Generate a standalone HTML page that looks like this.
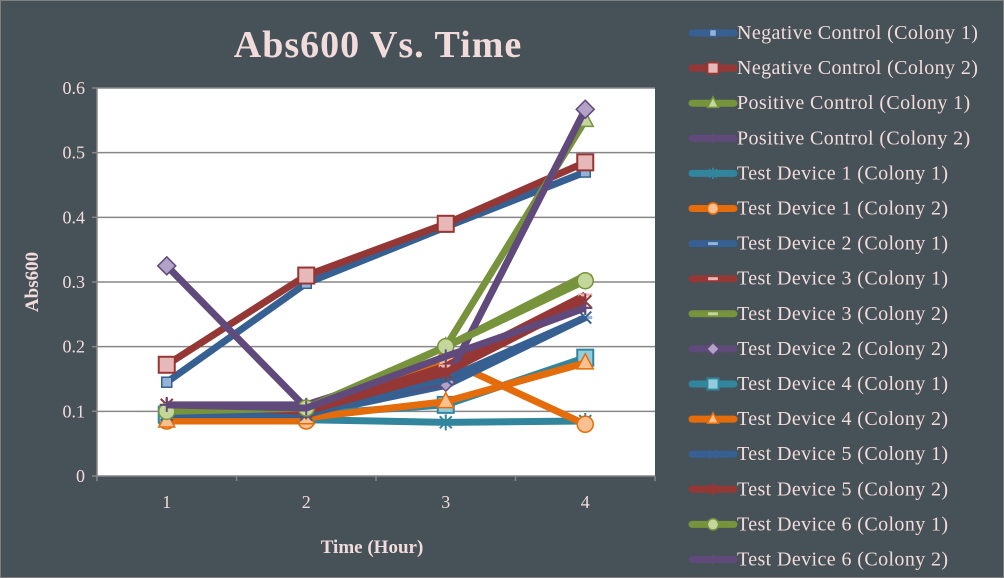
<!DOCTYPE html>
<html><head><meta charset="utf-8"><style>
body{margin:0;background:#475158;}
svg{display:block;font-family:"Liberation Serif",serif;}
</style></head><body>
<svg id="chart" width="1004" height="578" xmlns="http://www.w3.org/2000/svg">
<rect x="0" y="0" width="1004" height="578" fill="#475158" stroke="#7f7f7f" stroke-width="2"/>
<text x="378" y="57" text-anchor="middle" font-size="38" font-weight="bold" letter-spacing="1" fill="#f2dcdb">Abs600 Vs. Time</text>
<rect x="97" y="88" width="558" height="388" fill="#ffffff"/>
<g id="grid"></g><g id="axes"></g><g id="series"></g><g id="legend"></g>
<text x="372" y="553" text-anchor="middle" font-size="19" font-weight="bold" fill="#f2dcdb">Time (Hour)</text>
<text transform="translate(38,282) rotate(-90)" text-anchor="middle" font-size="19" font-weight="bold" fill="#f2dcdb">Abs600</text>
</svg>
<script>
const categories=[1,2,3,4];
const yTicks=[0,0.1,0.2,0.3,0.4,0.5,0.6];
const seriesNames=["Negative Control (Colony 1)","Negative Control (Colony 2)","Positive Control (Colony 1)","Positive Control (Colony 2)","Test Device 1 (Colony 1)","Test Device 1 (Colony 2)","Test Device 2 (Colony 1)","Test Device 3 (Colony 1)","Test Device 3 (Colony 2)","Test Device 2 (Colony 2)","Test Device 4 (Colony 1)","Test Device 4 (Colony 2)","Test Device 5 (Colony 1)","Test Device 5 (Colony 2)","Test Device 6 (Colony 1)","Test Device 6 (Colony 2)"];
const nc1=[0.145,0.298,0.385,0.47];
const nc2=[0.172,0.31,0.39,0.485];
const pc1=[0.1,0.105,0.2,0.55];
const pc2=[0.11,0.11,0.18,0.26];
const td1c1=[0.09,0.087,0.083,0.085];
const td1c2=[0.085,0.085,0.18,0.08];
const td2c1=[0.095,0.095,0.14,0.245];
const td3c1=[0.1,0.1,0.17,0.28];
const td3c2=[0.1,0.1,0.2,0.31];
const td2c2=[0.325,0.105,0.145,0.567];
const td4c1=[0.095,0.095,0.11,0.183];
const td4c2=[0.085,0.09,0.115,0.175];
const td5c1=[0.095,0.095,0.15,0.245];
const td5c2=[0.11,0.1,0.16,0.27];
const td6c1=[0.1,0.105,0.2,0.302];
const td6c2=[0.11,0.105,0.185,0.26];
const allValues=[nc1,nc2,pc1,pc2,td1c1,td1c2,td2c1,td3c1,td3c2,td2c2,td4c1,td4c2,td5c1,td5c2,td6c1,td6c2];
const colors=["#376092","#953735","#77933c","#604a7b","#31859c","#e46c0a","#376092","#953735","#77933c","#604a7b","#31859c","#e46c0a","#376092","#953735","#77933c","#604a7b"];
const fills=["#95b3d7","#e6b9b8","#c3d69b","#b3a2c7","#93cddd","#fac090","#95b3d7","#e6b9b8","#c3d69b","#b3a2c7","#93cddd","#fac090","#95b3d7","#e6b9b8","#c3d69b","#b3a2c7"];
const markers=["square","bigsquare","triangle","plus","star","circle","dash","dash","dash","diamond","bigsquare","triangle","x","star","circle","plus"];
const NS="http://www.w3.org/2000/svg";
const X0=97,X1=655,Y0=476,Y1=88,YMAX=0.6;
function xs(i){return X0+(X1-X0)*(i+0.5)/categories.length;}
function ys(v){return Y0-(Y0-Y1)*v/YMAX;}
function mk(tag,attrs,parent){const e=document.createElementNS(NS,tag);for(const k in attrs)e.setAttribute(k,attrs[k]);parent.appendChild(e);return e;}
const grid=document.getElementById('grid'),axes=document.getElementById('axes'),ser=document.getElementById('series'),leg=document.getElementById('legend');
yTicks.forEach(t=>{
 const y=ys(t);
 if(t>0){const g=mk('line',{x1:X0,x2:X1,y1:y,y2:y,stroke:'#878787','stroke-width':1.5},grid);
 
 }
 const tk=mk('line',{x1:X0-5,x2:X0,y1:y,y2:y,stroke:'#878787','stroke-width':1.5},axes);
 
 
 const tx=mk('text',{x:X0-12,y:y+6,'text-anchor':'end','font-size':18,fill:'#f2dcdb'},axes);tx.textContent=t===0?'0':t.toFixed(1);
 
 
});
const ax=mk('line',{x1:X0,x2:X1,y1:Y0,y2:Y0,stroke:'#878787','stroke-width':1.5},axes);


const ay=mk('line',{x1:X0,x2:X0,y1:Y1,y2:Y0,stroke:'#878787','stroke-width':1.5},axes);


for(let i=0;i<=categories.length;i++){const x=X0+(X1-X0)*i/categories.length;
 const t=mk('line',{x1:x,x2:x,y1:Y0,y2:Y0+5,stroke:'#878787','stroke-width':1.5},axes);
 
 }
categories.forEach((c,i)=>{const t=mk('text',{x:xs(i),y:Y0+32,'text-anchor':'middle','font-size':18,fill:'#f2dcdb'},axes);t.textContent=c;
 
 });
function marker(type,x,y,col,fill,parent,s){
 let e;
 if(type==='square')e=mk('rect',{x:x-5*s,y:y-5*s,width:10*s,height:10*s,fill:fill,stroke:col,'stroke-width':1.5},parent);
 else if(type==='bigsquare')e=mk('rect',{x:x-8*s,y:y-8*s,width:16*s,height:16*s,fill:fill,stroke:col,'stroke-width':2},parent);
 else if(type==='triangle')e=mk('polygon',{points:`${x},${y-9*s} ${x+8*s},${y+6*s} ${x-8*s},${y+6*s}`,fill:fill,stroke:col,'stroke-width':1.5},parent);
 else if(type==='circle')e=mk('circle',{cx:x,cy:y,r:8*s,fill:fill,stroke:col,'stroke-width':1.5},parent);
 else if(type==='diamond')e=mk('polygon',{points:`${x},${y-9*s} ${x+9*s},${y} ${x},${y+9*s} ${x-9*s},${y}`,fill:fill,stroke:col,'stroke-width':1.5},parent);
 else if(type==='dash')e=mk('line',{x1:x-7*s,x2:x+7*s,y1:y,y2:y,stroke:fill,'stroke-width':3},parent);
 else if(type==='plus')e=mk('path',{d:`M${x-7*s},${y}H${x+7*s}M${x},${y-7*s}V${y+7*s}`,stroke:col,'stroke-width':2,fill:'none'},parent);
 else if(type==='x')e=mk('path',{d:`M${x-6*s},${y-6*s}L${x+6*s},${y+6*s}M${x+6*s},${y-6*s}L${x-6*s},${y+6*s}`,stroke:col,'stroke-width':2,fill:'none'},parent);
 else e=mk('path',{d:`M${x-6*s},${y-6*s}L${x+6*s},${y+6*s}M${x+6*s},${y-6*s}L${x-6*s},${y+6*s}M${x},${y-8*s}V${y+8*s}`,stroke:col,'stroke-width':2,fill:'none'},parent);
 return e;
}
allValues.forEach((vals,si)=>{
 const g=mk('g',{},ser);
 
 
 const pts=vals.map((v,i)=>xs(i)+','+ys(v)).join(' ');
 const pl=mk('polyline',{points:pts,fill:'none',stroke:colors[si],'stroke-width':7,'stroke-linejoin':'round'},g);
 
 
 vals.forEach((v,i)=>{const m=marker(markers[si],xs(i),ys(v),colors[si],fills[si],g,1);
  
  });
});
seriesNames.forEach((n,si)=>{
 const y=33+35.1*si;
 const g=mk('g',{},leg);
 
 
 mk('line',{x1:692,x2:734,y1:y,y2:y,stroke:colors[si],'stroke-width':7,'stroke-linecap':'round'},g);
 marker(markers[si],713,y,colors[si],fills[si],g,0.7);
 const t=mk('text',{x:737,y:y+6,'font-size':20,'letter-spacing':0.4,fill:'#f2dcdb'},g);t.textContent=n;
});
</script>
</body></html>
